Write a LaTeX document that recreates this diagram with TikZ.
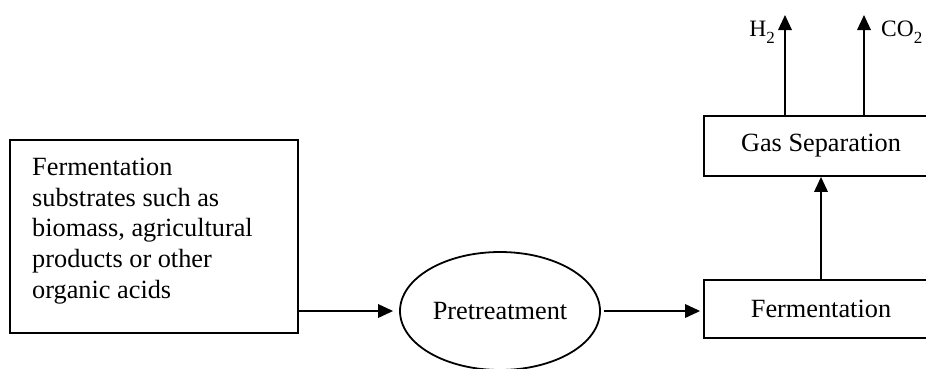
\documentclass[tikz,border=0pt]{standalone}
\usepackage{fontspec}
\setmainfont{Liberation Serif}
\usetikzlibrary{arrows.meta,shapes.geometric}
\newcommand{\mysubtwo}{\raisebox{-0.3em}{\fontsize{17pt}{18pt}\selectfont 2}}
\tikzset{
  box/.style={draw, line width=1.8pt, rectangle, inner sep=0pt},
  oval/.style={draw, line width=1.8pt, ellipse, inner sep=0pt, minimum width=200pt, minimum height=118pt},
  lbl/.style={font=\fontsize{26.3pt}{30.6pt}\selectfont, inner sep=0pt},
  small/.style={font=\fontsize{23.5pt}{26pt}\selectfont, inner sep=0pt},
  arr/.style={line width=1.8pt, -{Triangle[length=15pt,width=13.5pt]}}
}
\begin{document}
\begin{tikzpicture}[x=1pt,y=-1pt]
\useasboundingbox (0,0) rectangle (926,368);
% boxes
\node[box, minimum width=288pt, minimum height=193pt] (sub) at (154,236.5) {};
\node[lbl, anchor=north west, align=left] (subtext) at (32,158)
  {Fermentation\\substrates such as\\biomass, agricultural\\products or other\\organic acids};
\node[oval, lbl] (pre) at (500,311) {Pretreatment};
\node[box, lbl, minimum width=234pt, minimum height=58pt] (ferm) at (821,309) {Fermentation};
\node[box, lbl, minimum width=234pt, minimum height=60pt] (gas) at (821,146) {Gas Separation};
% coordinates for free arrow ends
\coordinate (h2s) at (785,116);
\coordinate (h2e) at (785,15);
\coordinate (co2s) at (864,116);
\coordinate (co2e) at (864,15);
% connectors
\draw[arr, shorten >=6pt] (sub.east |- pre.west) -- (pre.west);
\draw[arr, shorten <=3pt, shorten >=3pt] (pre.east) -- (pre.east -| ferm.west);
\draw[arr] (ferm.north) -- (gas.south);
\draw[arr] (h2s) -- (h2e);
\draw[arr] (co2s) -- (co2e);
% labels
\node[small, anchor=base east] (h2) at (775,36) {H\mysubtwo};
\node[small, anchor=base west] (co2) at (881,36) {CO\mysubtwo};
\end{tikzpicture}
\end{document}
